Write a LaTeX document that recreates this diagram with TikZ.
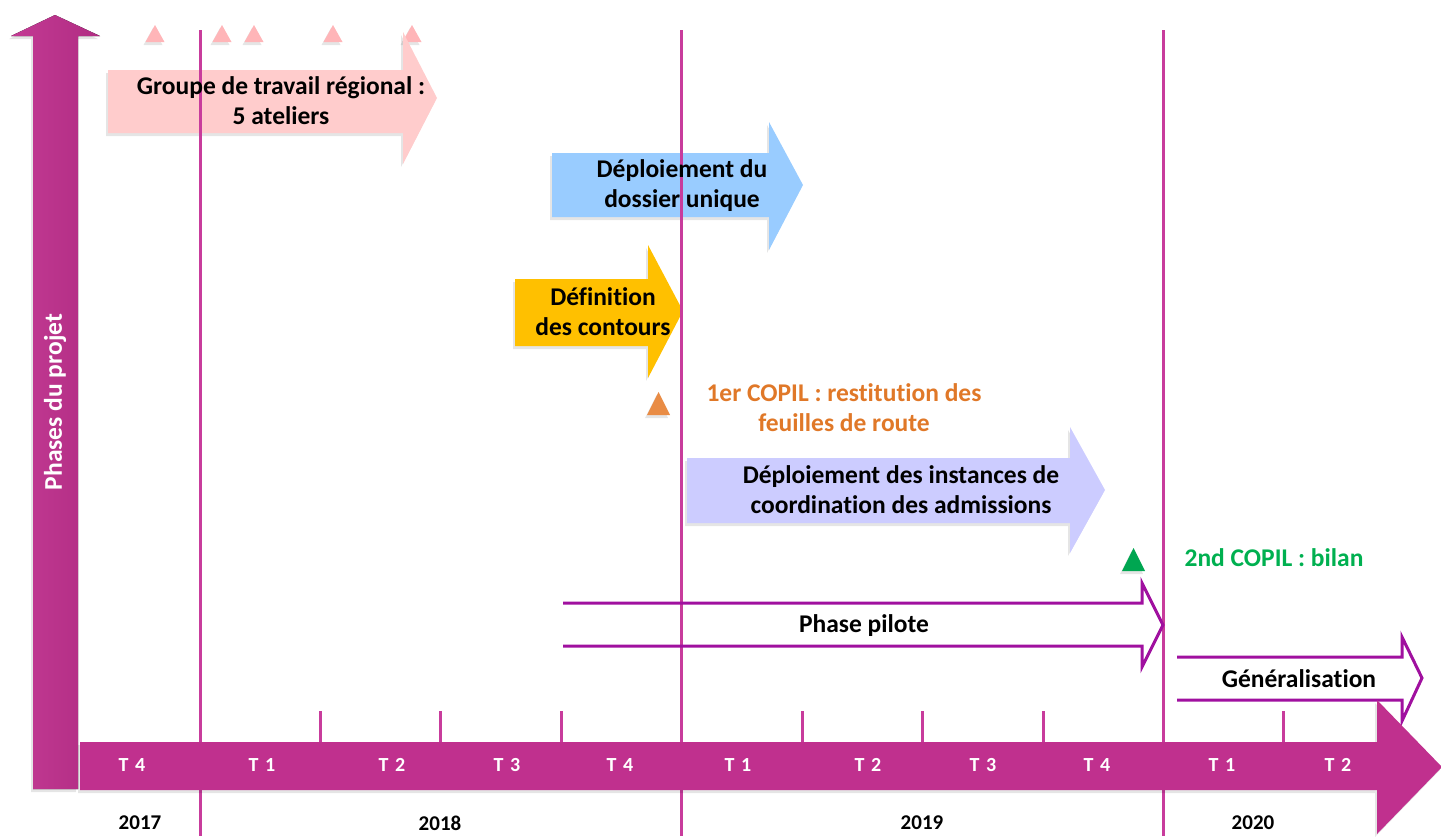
\documentclass[tikz,border=0pt]{standalone}
\usepackage{fontspec}
\setmainfont{Carlito}[Ligatures=NoCommon]
\usetikzlibrary{shadows}

\definecolor{magenta}{HTML}{C0308E}
\definecolor{ligne}{HTML}{C83C9C}
\definecolor{violet}{HTML}{A0109F}
\definecolor{rose}{HTML}{FFCCCC}
\definecolor{rosefonce}{HTML}{FFB5B8}
\definecolor{bleu}{HTML}{99CCFF}
\definecolor{jaune}{HTML}{FFC000}
\definecolor{lavande}{HTML}{CCCCFF}
\definecolor{orange}{HTML}{E98C45}
\definecolor{orangetxt}{HTML}{E07828}
\definecolor{vert}{HTML}{00A651}
\definecolor{verttxt}{HTML}{00B050}

\tikzset{
  ombre/.style={drop shadow={shadow xshift=-2pt, shadow yshift=-3pt, fill=black, opacity=0.10}},
  bloc/.style={ombre},
  texte/.style={font=\bfseries\fontsize{25.5}{30}\selectfont, align=center},
  trim/.style={font=\bfseries\fontsize{20}{22}\selectfont, text=white},
  annee/.style={font=\bfseries\fontsize{21}{22}\selectfont},
  contour/.style={draw=violet, line width=3pt, line join=miter},
  anneeligne/.style={draw=ligne, line width=3pt},
  jalon/.style={ombre}
}

\begin{document}
\begin{tikzpicture}[x=1pt, y=-1pt]
    \useasboundingbox (0, 0) rectangle (1441, 836);

    % axe horizontal : haut et bas de la barre
    \pgfmathsetmacro{\ha}{742}
    \pgfmathsetmacro{\ba}{790}

    % petits triangles roses (ateliers)
    \foreach \x in {155, 222, 254, 333, 412}
        \fill[rosefonce, jalon] (\x - 9.5, 42) -- (\x, 25) -- (\x + 9.5, 42) -- cycle;

    % fleches pleines des phases
    \fill[rose, bloc] (108, 70) -- (403, 70) -- (403, 32) -- (437, 98)
        -- (403, 164) -- (403, 133) -- (108, 133) -- cycle;
    \fill[bleu, bloc] (552, 153) -- (769, 153) -- (769, 122) -- (803, 185)
        -- (769, 250) -- (769, 217) -- (552, 217) -- cycle;
    \fill[jaune, bloc] (515, 279) -- (648, 279) -- (648, 245) -- (683, 311)
        -- (648, 378) -- (648, 346) -- (515, 346) -- cycle;
    \fill[lavande, bloc] (687, 458) -- (1070, 458) -- (1070, 427) -- (1105, 490)
        -- (1070, 553) -- (1070, 523) -- (687, 523) -- cycle;

    % jalons COPIL
    \fill[orange, jalon] (647, 415) -- (658.5, 392) -- (670, 415) -- cycle;
    \fill[vert, jalon] (1122, 571) -- (1133.5, 548) -- (1145, 571) -- cycle;

    % separations entre annees
    \foreach \x in {200, 681, 1163}
        \draw[anneeligne] (\x, 30) -- (\x, 836);

    % fleches creuses : phase pilote et generalisation
    \draw[contour] (563, 603) -- (1142, 603) -- (1142, 583) -- (1163, 625)
        -- (1142, 667) -- (1142, 646) -- (563, 646);
    \draw[contour] (1177, 657) -- (1402, 657) -- (1402, 637) -- (1422, 678)
        -- (1402, 721) -- (1402, 700) -- (1177, 700);

    % fleche verticale
    \fill[left color=magenta!95!white, right color=magenta!92!black, ombre]
        (33, 789) -- (33, 36) -- (11, 36) -- (55, 15) -- (100, 36)
        -- (78, 36) -- (78, 789) -- cycle;

    % axe du temps
    \fill[magenta, ombre] (80, \ha) -- (1377, \ha) -- (1377, 700) -- (1442, 767)
        -- (1377, 834) -- (1377, \ba) -- (80, \ba) -- cycle;
    \foreach \x in {320, 440, 561, 802, 922, 1043, 1283}
        \draw[anneeligne] (\x, 711) -- (\x, \ha);

    % trimestres
    \foreach \x/\t [count=\i] in {132/4, 262/1, 392/2, 507/3, 620/4, 738/1,
                                  868/2, 983/3, 1097/4, 1222/1, 1338/2}
        \node[trim] (t\i) at (\x, 765) {T\,\,\t};

    % annees
    \foreach \x/\y in {140/2017, 440/2018, 922/2019, 1253/2020}
        \node[annee] (a\y) at (\x, 823) {\y};

    % textes
    \node[texte] (groupe) at (281, 101) {Groupe de travail régional :\\5 ateliers};
    \node[texte] (dossier) at (682, 186) {Déploiement du\\dossier unique};
    \node[texte] (contours) at (603, 312) {Définition\\des contours};
    \node[texte, text=orangetxt] (copil1) at (844, 408)
        {1er COPIL : restitution des\\feuilles de route};
    \node[texte] (instances) at (901, 490)
        {Déploiement des instances de\\coordination des admissions};
    \node[texte, text=verttxt] (copil2) at (1274, 558) {2nd COPIL : bilan};
    \node[texte] (pilote) at (864, 626) {Phase pilote};
    \node[texte] (general) at (1299, 679) {Généralisation};
    \node[texte, text=white, rotate=90] (phases) at (55, 402) {Phases du projet};
\end{tikzpicture}
\end{document}
